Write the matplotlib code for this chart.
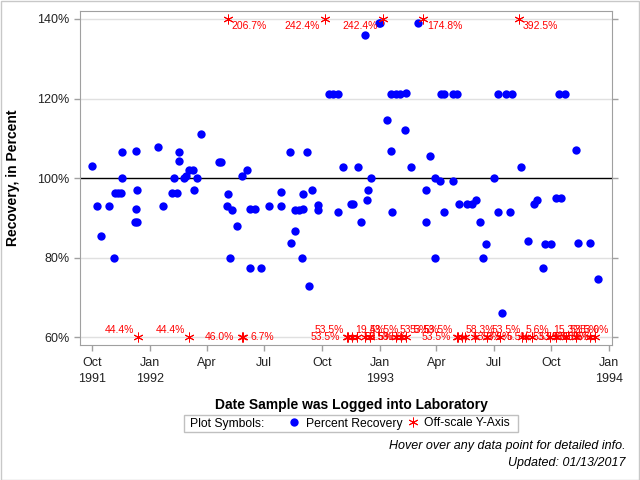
import numpy as np
import pandas as pd
import matplotlib
matplotlib.use('Agg')
import matplotlib.pyplot as plt
from matplotlib.lines import Line2D
from matplotlib.patches import Rectangle

plt.rcParams['font.family'] = ['Liberation Sans', 'DejaVu Sans']

# Recovery results inside the 60-140% window
sample_dates = [
    '1991-10-01', '1991-10-09', '1991-10-15', '1991-10-28', '1991-11-05', '1991-11-06',
    '1991-11-11', '1991-11-17', '1991-11-18', '1991-11-18', '1991-12-10', '1991-12-12',
    '1991-12-10', '1991-12-09', '1991-12-11', '1992-01-14', '1992-01-22', '1992-02-05',
    '1992-02-09', '1992-02-13', '1992-02-16', '1992-02-16', '1992-02-24', '1992-02-28',
    '1992-03-03', '1992-03-10', '1992-03-11', '1992-03-16', '1992-03-23', '1992-04-20',
    '1992-04-24', '1992-05-04', '1992-05-03', '1992-05-11', '1992-05-08', '1992-05-19',
    '1992-05-27', '1992-06-04', '1992-06-08', '1992-06-17', '1992-06-08', '1992-06-26',
    '1992-07-09', '1992-07-28', '1992-07-28', '1992-08-11', '1992-08-13', '1992-08-19',
    '1992-08-19', '1992-08-26', '1992-09-01', '1992-08-30', '1992-09-01', '1992-09-07',
    '1992-09-10', '1992-09-15', '1992-09-25', '1992-09-25', '1992-10-12', '1992-10-18',
    '1992-10-27', '1992-10-27', '1992-11-03', '1992-11-16', '1992-11-19', '1992-11-27',
    '1992-12-02', '1992-12-08', '1992-12-12', '1992-12-13', '1992-12-18', '1992-12-30',
    '1993-01-01', '1993-01-12', '1993-01-19', '1993-01-20', '1993-01-19', '1993-01-26',
    '1993-02-02', '1993-02-11', '1993-02-10', '1993-02-20', '1993-03-03', '1993-03-15',
    '1993-03-15', '1993-03-21', '1993-03-30', '1993-04-07', '1993-04-13', '1993-03-30',
    '1993-04-08', '1993-04-13', '1993-04-27', '1993-05-04', '1993-04-27', '1993-05-07',
    '1993-05-20', '1993-05-28', '1993-06-03', '1993-06-10', '1993-06-19', '1993-06-14',
    '1993-07-01', '1993-07-08', '1993-07-08', '1993-07-21', '1993-07-30', '1993-07-27',
    '1993-07-14', '1993-08-14', '1993-08-25', '1993-09-03', '1993-09-08', '1993-09-21',
    '1993-09-30', '1993-09-18', '1993-10-08', '1993-10-16', '1993-10-13', '1993-10-23',
    '1993-11-09', '1993-11-12', '1993-12-01', '1993-12-14',
]
recovery = [
    103.0, 92.9, 85.4, 92.9, 79.9, 96.2,
    96.2, 96.2, 106.5, 100.0, 106.7, 97.0,
    92.2, 88.9, 88.9, 107.7, 92.9, 96.2,
    100.0, 96.2, 106.5, 104.4, 100.0, 100.4,
    102.0, 102.0, 97.0, 100.0, 111.0, 104.0,
    104.0, 96.1, 92.9, 91.9, 79.8, 87.9,
    100.4, 102.0, 92.1, 92.1, 77.5, 77.5,
    92.9, 96.6, 92.9, 106.5, 83.6, 86.6,
    91.9, 91.9, 92.1, 79.8, 96.1, 106.5,
    72.8, 96.9, 93.2, 92.0, 121.1, 121.1,
    121.1, 91.4, 102.8, 93.4, 93.4, 102.8,
    88.9, 135.9, 94.4, 96.9, 100.0, 139.0,
    139.0, 114.5, 106.7, 91.4, 121.1, 121.1,
    121.1, 121.3, 112.0, 102.8, 139.0, 96.9,
    88.9, 105.5, 100.0, 99.2, 91.4, 80.0,
    121.1, 121.1, 121.1, 121.1, 99.2, 93.4,
    93.4, 93.4, 94.4, 88.9, 83.3, 80.0,
    100.0, 91.4, 121.1, 121.1, 121.1, 91.4,
    66.1, 102.8, 84.1, 93.4, 94.4, 83.3,
    83.3, 77.5, 95.1, 95.1, 121.1, 121.1,
    107.0, 83.6, 83.6, 74.5,
]

# Results outside the window, drawn on the axis edge
offscale_dates = [
    '1992-05-04', '1992-10-05', '1993-01-06', '1993-03-11', '1993-08-10',
    '1991-12-14', '1992-03-04', '1992-05-26', '1992-05-29', '1992-11-09',
    '1992-11-11', '1992-11-17', '1992-11-25', '1992-12-09', '1992-12-17',
    '1993-01-26', '1993-02-03', '1993-02-11', '1993-05-03', '1993-05-06',
    '1993-05-11', '1993-05-17', '1993-06-02', '1993-06-21', '1993-07-11',
    '1993-08-15', '1993-08-21', '1993-08-31', '1993-09-28', '1993-10-08',
    '1993-10-24', '1993-11-09', '1993-12-01', '1993-12-10',
]
offscale_values = [
    206.7, 242.4, 242.4, 174.8, 392.5,
    44.4, 44.4, 46.0, 6.7, 53.5,
    53.5, 19.4, 53.5, 53.5, 53.5,
    53.5, 53.5, 53.5, 53.5, 53.5,
    58.3, 53.3, 53.5, 53.5, 5.5,
    5.6, 53.5, 53.5, 15.3, 53.5,
    53.5, 53.0, 53.5, 53.5,
]
offscale_label_pos = [
    'lr', 'll', 'll', 'lr', 'lr',
    'ul', 'ul', 'l', 'r', 'l',
    'ul', 'ur', 'r', 'ur', 'r',
    'ur', 'l', 'ur', 'ul', 'l',
    'ur', 'r', 'r', 'ur', 'r',
    'ur', 'r', 'r', 'ur', 'r',
    'ur', 'ur', 'l', 'l',
]

y_ticks = [60, 80, 100, 120, 140]
x_ticks = ['1991-10-01', '1992-01-01', '1992-04-01', '1992-07-01', '1992-10-01',
           '1993-01-01', '1993-04-01', '1993-07-01', '1993-10-01', '1994-01-01']
x_tick_labels = ['Oct\n1991', 'Jan\n1992', 'Apr', 'Jul', 'Oct',
                 'Jan\n1993', 'Apr', 'Jul', 'Oct', 'Jan\n1994']

Y_LOW, Y_HIGH = y_ticks[0], y_ticks[-1]

fig = plt.figure(figsize=(6.4, 4.8), dpi=100)
ax = fig.add_axes([0.125, 0.281, 0.831, 0.696])

# grid + reference line
for yv in y_ticks:
    if yv != 100:
        ax.axhline(yv, color='#e0e0e0', linewidth=1, zorder=0)
ax.axhline(100, color='black', linewidth=1, zorder=1)

# points
ax.plot(pd.to_datetime(sample_dates), recovery, 'o', color='#0000ff',
        markersize=6, markeredgewidth=0, zorder=3)

off_x = pd.to_datetime(offscale_dates)
off_y = np.clip(offscale_values, Y_LOW, Y_HIGH)
ax.plot(off_x, off_y, linestyle='none', marker=(6, 2, 0), color='#ff0000',
        markersize=7, markeredgewidth=0.7, zorder=4)

# value labels next to the off-scale markers (offsets in pixels)
offsets = {
    'l': (-7, 0, 'right'), 'r': (7, 0, 'left'),
    'ul': (-4, 7, 'right'), 'ur': (4, 7, 'left'),
    'll': (-5, -7, 'right'), 'lr': (4, -7, 'left'),
}
for xd, yv, val, pos in zip(off_x, off_y, offscale_values, offscale_label_pos):
    dx, dy, ha = offsets[pos]
    ax.annotate(f'{val:.1f}%', xy=(xd, yv), xytext=(dx * 0.72, dy * 0.72),
                textcoords='offset points', ha=ha, va='center',
                fontsize=7.5, color='#ff0000', zorder=5)

# axes
ax.set_ylim(58, 142)
ax.set_xlim(pd.Timestamp('1991-09-12'), pd.Timestamp('1994-01-05'))
ax.set_yticks(y_ticks)
ax.set_yticklabels([f'{v}%' for v in y_ticks])
ax.set_xticks(pd.to_datetime(x_ticks))
ax.set_xticklabels(x_tick_labels, linespacing=1.45)

for spine in ax.spines.values():
    spine.set_color('#a0a0a0')
ax.tick_params(axis='both', direction='out', length=4.5, width=1, color='#a0a0a0',
               labelsize=9, labelcolor='#222222')
ax.tick_params(axis='y', right=True, pad=3)
ax.tick_params(axis='x', pad=4)

ax.set_ylabel('Recovery, in Percent', fontsize=10, fontweight='bold')
ax.yaxis.set_label_coords(-0.113, 0.5)
ax.set_xlabel('Date Sample was Logged into Laboratory', fontsize=10, fontweight='bold')
ax.xaxis.set_label_coords(0.51, -0.159)

# legend box
fig.add_artist(Rectangle((184 / 640, 1 - 432 / 480), 334 / 640, 17 / 480,
                         transform=fig.transFigure, facecolor='white',
                         edgecolor='#c0c0c0', linewidth=1))
fig.text(190 / 640, 1 - 423.5 / 480, 'Plot Symbols:', fontsize=8.7, va='center', ha='left')
handles = [
    Line2D([], [], linestyle='none', marker='o', color='#0000ff', markersize=6, markeredgewidth=0),
    Line2D([], [], linestyle='none', marker=(6, 2, 0), color='#ff0000', markersize=7, markeredgewidth=0.7),
]
fig.legend(handles, ['Percent Recovery', 'Off-scale Y-Axis'], ncol=2, frameon=False,
           loc='center left', bbox_to_anchor=(288 / 640, 1 - 423.5 / 480),
           fontsize=8.7, handlelength=1.0, handletextpad=0.45, columnspacing=0.4,
           borderpad=0, borderaxespad=0)

fig.text(0.977, 1 - 446 / 480, 'Hover over any data point for detailed info.',
         fontsize=9, style='italic', ha='right', va='center')
fig.text(0.977, 1 - 463 / 480, 'Updated: 01/13/2017',
         fontsize=9, style='italic', ha='right', va='center')

# outer frame
fig.add_artist(Rectangle((0.001, 0.001), 0.997, 0.997, transform=fig.transFigure,
                         facecolor='none', edgecolor='#c8c8c8', linewidth=1))

fig.savefig('out.png', dpi=100)
